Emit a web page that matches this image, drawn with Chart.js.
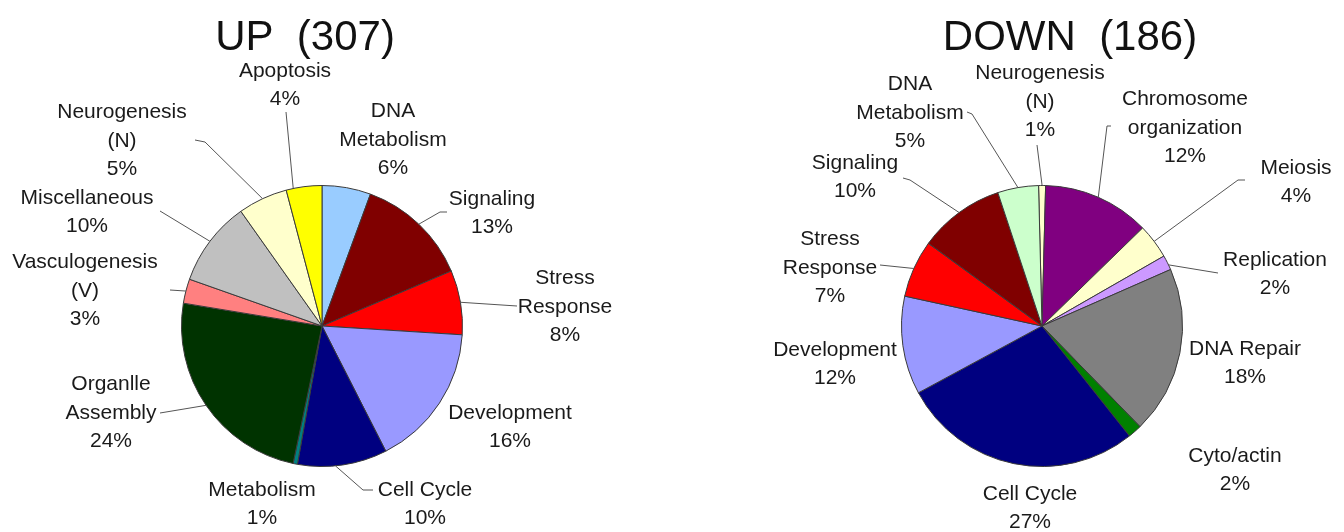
<!DOCTYPE html>
<html>
<head>
<meta charset="utf-8">
<script src="https://cdn.jsdelivr.net/npm/chart.js@4"></script>
<style>
  body { margin: 0; background: #fff; }
  #wrap { position: relative; width: 1344px; height: 532px; }
  canvas { position: absolute; top: 0; }
</style>
</head>
<body>
<div id="wrap">
  <canvas id="upChart" width="672" height="532" style="left:0"></canvas>
  <canvas id="downChart" width="672" height="532" style="left:672px"></canvas>
</div>
<script>
// UP (307) - clockwise from 12 o'clock
const upNames = [['DNA', 'Metabolism'], ['Signaling'], ['Stress', 'Response'], ['Development'], ['Cell Cycle'],
  ['Metabolism'], ['Organlle', 'Assembly'], ['Vasculogenesis', '(V)'], ['Miscellaneous'], ['Neurogenesis', '(N)'], ['Apoptosis']];
const upPct = [6, 13, 8, 16, 10, 1, 24, 3, 10, 5, 4];
// slice sizes as drawn (%)
const upShares = [5.6, 13.0, 7.4, 16.5, 10.3, 0.5, 24.3, 2.8, 9.8, 5.7, 4.1];
const upColors = ['#99CCFF', '#800000', '#FF0000', '#9999FF', '#000080', '#008080', '#003300', '#FF8080', '#C0C0C0', '#FFFFCC', '#FFFF00'];

// DOWN (186)
const downNames = [['Neurogenesis', '(N)'], ['Chromosome', 'organization'], ['Meiosis'], ['Replication'], ['DNA Repair'],
  ['Cyto/actin'], ['Cell Cycle'], ['Development'], ['Stress', 'Response'], ['Signaling'], ['DNA', 'Metabolism']];
const downPct = [1, 12, 4, 2, 18, 2, 27, 12, 7, 10, 5];
const downShares = [0.8, 12.3, 4.0, 1.7, 19.3, 1.6, 27.8, 11.3, 6.6, 9.9, 4.7];
const downColors = ['#FFFFCC', '#800080', '#FFFFCC', '#CC99FF', '#808080', '#008000', '#000080', '#9999FF', '#FF0000', '#800000', '#CCFFCC'];

const LINE_H = 28.5;

// label placement relative to pie centre; lead = leader line points after the pie edge
const upLayout = [
  { x: 71, y: -186 },
  { x: 170, y: -113, lead: [[118, -114], [125, -114]] },
  { x: 243, y: -19, lead: [[195, -20]] },
  { x: 188, y: 101 },
  { x: 103, y: 178, t: 0.58, lead: [[41, 164], [51, 164]] },
  { x: -60, y: 178 },
  { x: -211, y: 87, lead: [[-162, 87]] },
  { x: -237, y: -35, lead: [[-152, -36]] },
  { x: -235, y: -114, lead: [[-162, -115]] },
  { x: -200, y: -185, lead: [[-117, -184], [-127, -186]] },
  { x: -37, y: -241, t: 0.2, lead: [[-36, -214]] }
];
const downLayout = [
  { x: -2, y: -224, lead: [[-5, -181]] },
  { x: 143, y: -198, lead: [[65, -200], [69, -200]] },
  { x: 254, y: -144, lead: [[196, -146], [203, -146]] },
  { x: 233, y: -52, t: 0.66, lead: [[176, -53]] },
  { x: 203, y: 37 },
  { x: 193, y: 144 },
  { x: -12, y: 182 },
  { x: -207, y: 38 },
  { x: -212, y: -58, lead: [[-162, -61]] },
  { x: -187, y: -149, lead: [[-132, -146], [-139, -148]] },
  { x: -132, y: -213, lead: [[-70, -212], [-75, -214]] }
];

function makeLabels(title, titleDx, names, pct, layout) {
  return {
    id: 'pieLabels',
    afterDraw(chart) {
      const ctx = chart.ctx;
      const meta = chart.getDatasetMeta(0);
      const cx = meta.data[0].x, cy = meta.data[0].y;
      ctx.save();
      ctx.fillStyle = '#111';
      ctx.textAlign = 'center';
      ctx.textBaseline = 'alphabetic';
      ctx.font = '42px "Liberation Sans", Arial, sans-serif';
      ctx.fillText(title, cx + titleDx, 50);

      ctx.font = '21px "Liberation Sans", Arial, sans-serif';
      ctx.textBaseline = 'middle';
      ctx.fillStyle = '#1a1a1a';
      ctx.strokeStyle = '#555';
      ctx.lineWidth = 1;
      layout.forEach((lay, i) => {
        const arc = meta.data[i];
        const lines = names[i].concat(pct[i] + '%');
        const n = lines.length;
        lines.forEach((s, k) => ctx.fillText(s, cx + lay.x, cy + lay.y + (k - (n - 1) / 2) * LINE_H));
        if (lay.lead) {
          const t = lay.t === undefined ? 0.5 : lay.t;
          const a = arc.startAngle + (arc.endAngle - arc.startAngle) * t;
          ctx.beginPath();
          ctx.moveTo(cx + Math.cos(a) * arc.outerRadius, cy + Math.sin(a) * arc.outerRadius);
          lay.lead.forEach(p => ctx.lineTo(cx + p[0], cy + p[1]));
          ctx.stroke();
        }
      });
      ctx.restore();
    }
  };
}

function drawPie(id, shares, colors, rotation, padding, plugin) {
  new Chart(document.getElementById(id), {
    type: 'pie',
    data: {
      labels: shares.map((v, i) => i),
      datasets: [{
        data: shares,
        backgroundColor: colors,
        borderColor: '#3a3a3a',
        borderWidth: 1
      }]
    },
    options: {
      responsive: false,
      animation: false,
      rotation: rotation,
      layout: { padding: padding },
      plugins: {
        legend: { display: false },
        tooltip: { enabled: false }
      }
    },
    plugins: [plugin]
  });
}

drawPie('upChart', upShares, upColors, 0,
  { left: 181, right: 209, top: 185, bottom: 65 },
  makeLabels('UP  (307)', -17, upNames, upPct, upLayout));
drawPie('downChart', downShares, downColors, -1.4,
  { left: 229, right: 161, top: 185, bottom: 65 },
  makeLabels('DOWN  (186)', 28, downNames, downPct, downLayout));
</script>
</body>
</html>
